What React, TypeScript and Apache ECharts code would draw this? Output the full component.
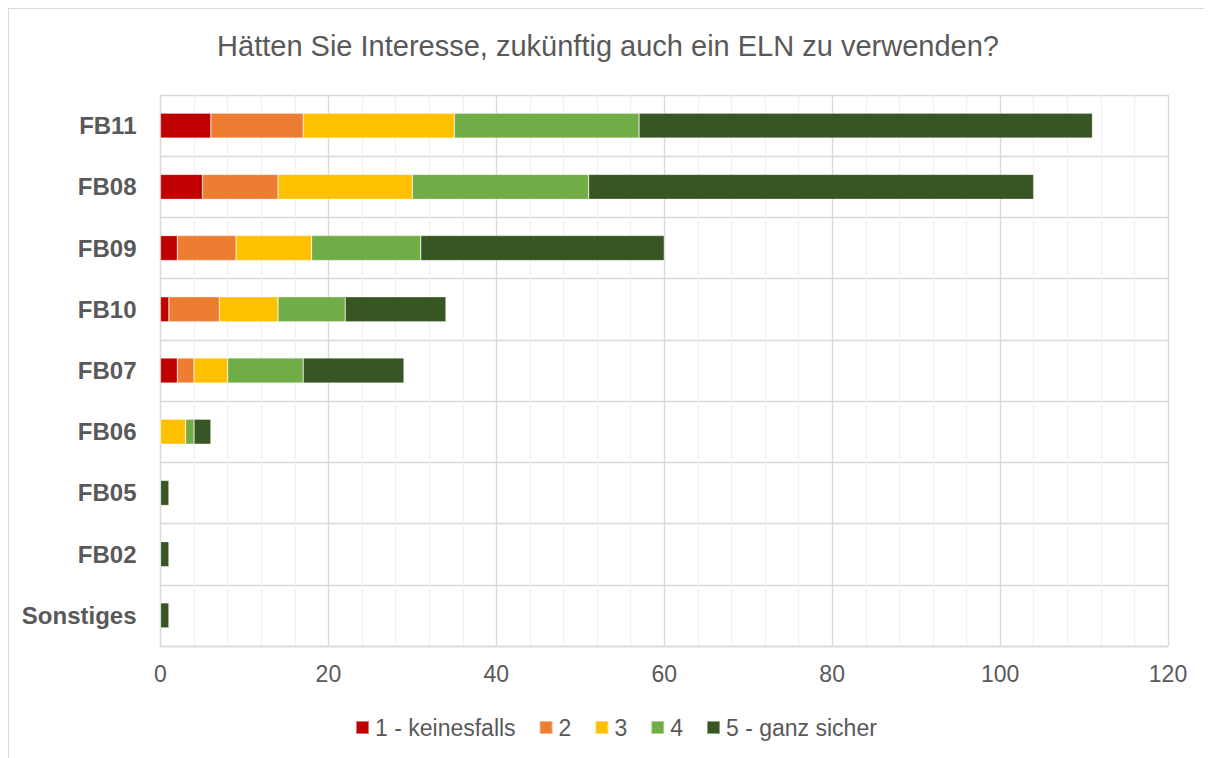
import React, { useEffect, useRef } from "react";
import * as echarts from "echarts";

const categories = ["FB11", "FB08", "FB09", "FB10", "FB07", "FB06", "FB05", "FB02", "Sonstiges"];
const seriesNames = ["1 - keinesfalls", "2", "3", "4", "5 - ganz sicher"];
const s1 = [6, 5, 2, 1, 2, 0, 0, 0, 0];
const s2 = [11, 9, 7, 6, 2, 0, 0, 0, 0];
const s3 = [18, 16, 9, 7, 4, 3, 0, 0, 0];
const s4 = [22, 21, 13, 8, 9, 1, 0, 0, 0];
const s5 = [54, 53, 29, 12, 12, 2, 1, 1, 1];
const colors = ["#C00000", "#ED7D31", "#FFC000", "#70AD47", "#375623"];
const titleText = "Hätten Sie Interesse, zukünftig auch ein ELN zu verwenden?";

export default function App() {
  const ref = useRef<HTMLDivElement>(null);
  useEffect(() => {
    document.documentElement.style.overflow = "hidden";
    document.body.style.overflow = "hidden";
    const chart = echarts.init(ref.current!, null, { renderer: "svg" });
    const values = [s1, s2, s3, s4, s5];
    const font = "Liberation Sans, Arial, sans-serif";
    chart.setOption({
      animation: false,
      textStyle: { fontFamily: font },
      title: {
        text: titleText,
        left: 594,
        textAlign: "center",
        top: 17,
        textStyle: { fontSize: 29, fontWeight: "normal", color: "#595959", fontFamily: font },
      },
      legend: {
        data: seriesNames,
        left: 341,
        top: 702,
        itemWidth: 13,
        itemHeight: 13,
        itemGap: 23,
        icon: "rect",
        textStyle: { fontSize: 23, color: "#595959", fontFamily: font, padding: [0, 0, 0, 1] },
      },
      grid: { left: 151.5, right: 44, top: 86, bottom: 112, containLabel: false },
      xAxis: {
        type: "value",
        min: 0,
        max: 120,
        interval: 20,
        axisLine: { show: true, lineStyle: { color: "#D9D9D9", width: 1.3 } },
        axisTick: { show: false },
        axisLabel: { fontSize: 23, color: "#595959", margin: 16, fontFamily: font },
        splitLine: { show: true, lineStyle: { color: "#D9D9D9", width: 1.3 } },
        minorTick: { show: false, splitNumber: 5 },
        minorSplitLine: { show: true, lineStyle: { color: "#F2F2F2", width: 1.3 } },
      },
      yAxis: {
        type: "category",
        data: categories,
        inverse: true,
        axisLine: { show: true, lineStyle: { color: "#D9D9D9", width: 1.3 } },
        axisTick: { show: false },
        axisLabel: { fontSize: 24, fontWeight: "bold", color: "#595959", margin: 24, fontFamily: font },
        splitLine: { show: true, lineStyle: { color: "#D9D9D9", width: 1.3 } },
      },
      series: seriesNames.map((name, i) => ({
        name,
        type: "bar",
        stack: "total",
        data: values[i],
        barWidth: 25,
        itemStyle: { color: colors[i], borderColor: "rgba(255,255,255,0.45)", borderWidth: 0.6 },
      })),
    });
    return () => chart.dispose();
  }, []);
  return (
    <div
      style={{
        width: 1204,
        height: 750,
        boxSizing: "border-box",
        borderLeft: "1px solid #D9D9D9",
        borderTop: "1px solid #D9D9D9",
        background: "#fff",
      }}
    >
      <div ref={ref} style={{ width: 1203, height: 749 }} />
    </div>
  );
}
